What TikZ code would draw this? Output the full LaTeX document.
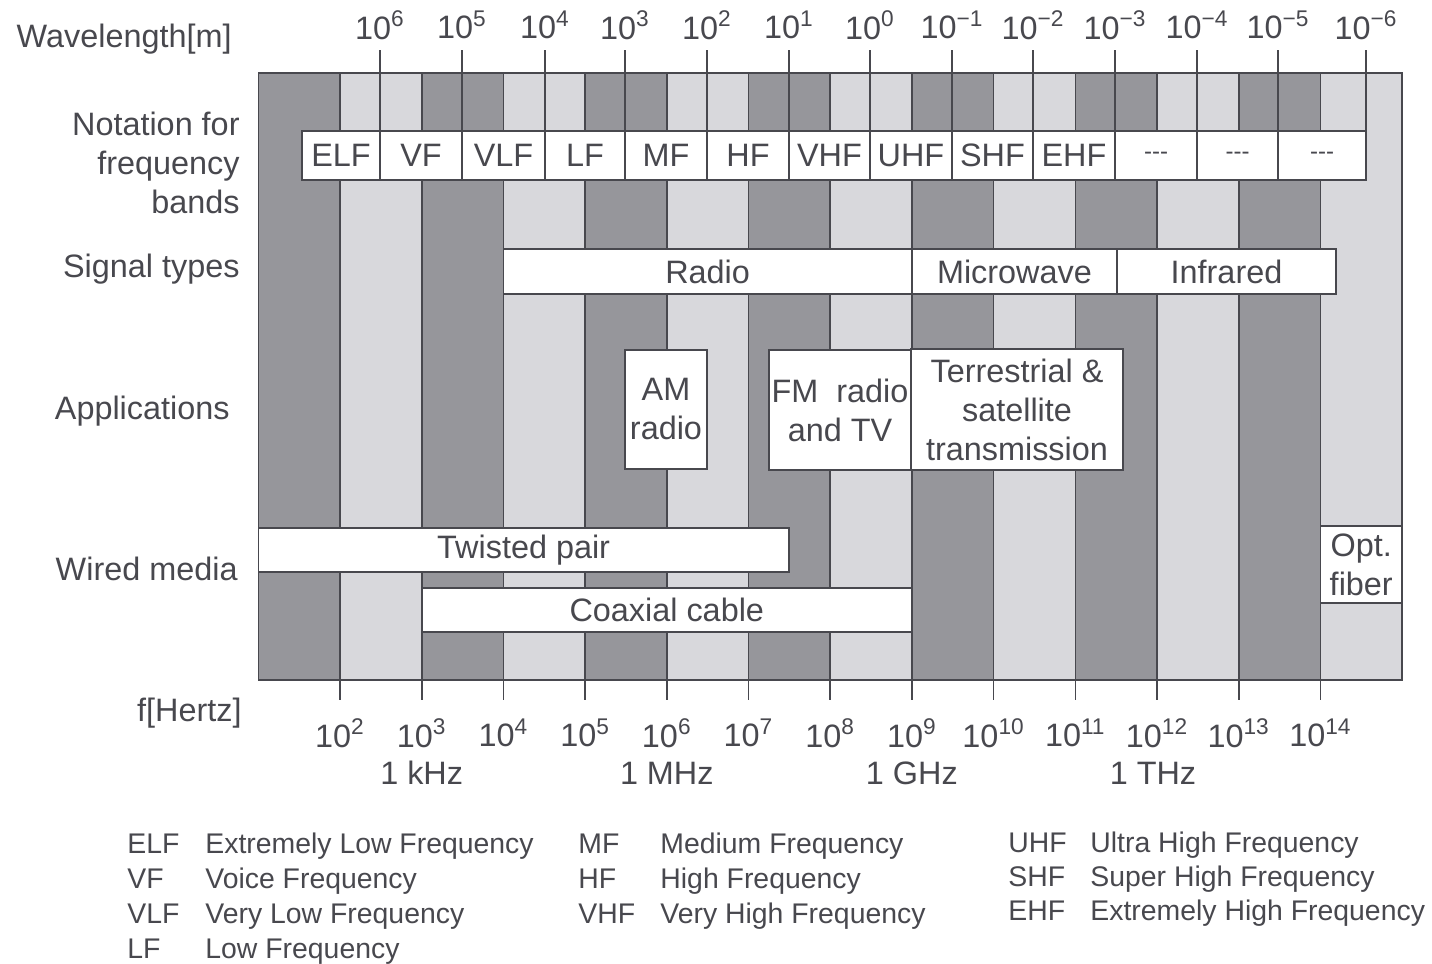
\documentclass[tikz,border=0pt]{standalone}
\usepackage{fontspec}
\setmainfont{Liberation Sans}
\usepackage{tikz}
\usetikzlibrary{positioning}
\definecolor{ink}{RGB}{72,72,78}
\definecolor{stripedark}{RGB}{150,150,155}
\definecolor{stripelight}{RGB}{216,216,220}
\tikzset{
  rule/.style={draw=ink,line width=0.8pt},
  tag/.style={font=\fontsize{16.2}{19.5}\selectfont,text=ink,align=center,inner sep=0pt},
  side/.style={font=\fontsize{16.2}{19.5}\selectfont,text=ink,align=right,anchor=east,inner sep=0pt},
  legend/.style={font=\fontsize{14.2}{17}\selectfont,text=ink,anchor=base west,inner sep=0pt}
}
\newcommand{\tagbox}[6]{%
  \draw[rule,fill=white] (#2,#3) rectangle (#4,#5);
  \node[tag] (#1) at ({(#2+#4)/2},{(#3+#5)/2}) {#6};}
\newcommand{\nodash}{{\fontsize{12}{14}\selectfont -{}-{}-}}

\begin{document}
\begin{tikzpicture}[x=0.5pt,y=-0.5pt]
   \useasboundingbox (0,0) rectangle (1432,964);
   \foreach \i in {1,...,14}{
     \pgfmathsetmacro{\xa}{258.3+(\i-1)*81.7}
     \ifodd\i \def\stripecol{stripedark}\else \def\stripecol{stripelight}\fi
     \draw[rule,fill=\stripecol] (\xa,73) rectangle ++(81.7,607);
   }
   \draw[rule] (258.3,73) rectangle (1402.1,680);
   \foreach \x/\e in {380/6,462/5,545/4,625/3,707/2,789/1,870/0,952/−1,1033/−2,1115/−3,1197/−4,1278/−5,1366/−6}{
     \draw[rule] (\x,50) -- (\x,131);
     \node[tag] (w\x) at (\x,25) {10\textsuperscript{\e}};
   }
   \foreach \k in {2,...,14}{
     \pgfmathsetmacro{\xf}{258.3+(\k-1)*81.7}
     \draw[rule] (\xf,680) -- (\xf,700);
     \node[tag] (f\k) at (\xf,733) {10\textsuperscript{\k}};
   }
   \node[tag] (khz) at (421.7,773) {1 kHz};
   \node[tag] (mhz) at (666.8,773) {1 MHz};
   \node[tag] (ghz) at (911.9,773) {1 GHz};
   \node[tag] (thz) at (1153,773) {1 THz};
   \node[side] (wl) at (232,39) {Wavelength[m]};
   \node[side] (nt) at (240,163) {Notation for\\frequency\\bands};
   \node[side] (st) at (240,269) {Signal types};
   \node[side] (ap) at (230,411) {Applications};
   \node[side] (wm) at (238,569) {Wired media};
   \node[side] (fh) at (242,713) {f[Hertz]};
   \foreach \xa/\xb/\t [count=\n] in {302/380/ELF,380/462/VF,462/545/VLF,545/625/LF,625/707/MF,707/789/HF,789/870/VHF,870/952/UHF,952/1033/SHF,1033/1115/EHF,1115/1197/\nodash,1197/1278/\nodash,1278/1366/\nodash}{
     \tagbox{b\n}{\xa}{131}{\xb}{180}{\t}
   }
   \tagbox{radio}{503.4}{249}{911.9}{294}{Radio}
   \tagbox{micro}{911.9}{249}{1117}{294}{Microwave}
   \tagbox{infra}{1117}{249}{1336}{294}{Infrared}
   \tagbox{am}{625}{350}{707}{469}{AM\\radio}
   \tagbox{fm}{769}{350}{911}{470}{FM\ \ radio\\and TV}
   \tagbox{sat}{911}{349}{1123}{470}{Terrestrial \&\\satellite\\transmission}
   \tagbox{twisted}{258.3}{528}{789}{572}{Twisted pair}
   \tagbox{coax}{421.7}{588}{911.9}{632}{Coaxial cable}
   \tagbox{fiber}{1320.4}{526}{1402.1}{603}{Opt.\\fiber}
   \foreach \a/\d [count=\n] in {ELF/Extremely Low Frequency,VF/Voice Frequency,VLF/Very Low Frequency,LF/Low Frequency}{
     \node[legend] (la\n) at (127,{853+35*(\n-1)}) {\a};
     \node[legend] (ld\n) at (205,{853+35*(\n-1)}) {\d};
   }
   \foreach \a/\d [count=\n] in {MF/Medium Frequency,HF/High Frequency,VHF/Very High Frequency}{
     \node[legend] (lb\n) at (578,{853+35*(\n-1)}) {\a};
     \node[legend] (le\n) at (660,{853+35*(\n-1)}) {\d};
   }
   \foreach \a/\d [count=\n] in {UHF/Ultra High Frequency,SHF/Super High Frequency,EHF/Extremely High Frequency}{
     \node[legend] (lc\n) at (1008,{852+34*(\n-1)}) {\a};
     \node[legend] (lf\n) at (1090,{852+34*(\n-1)}) {\d};
   }
\end{tikzpicture}
\end{document}
